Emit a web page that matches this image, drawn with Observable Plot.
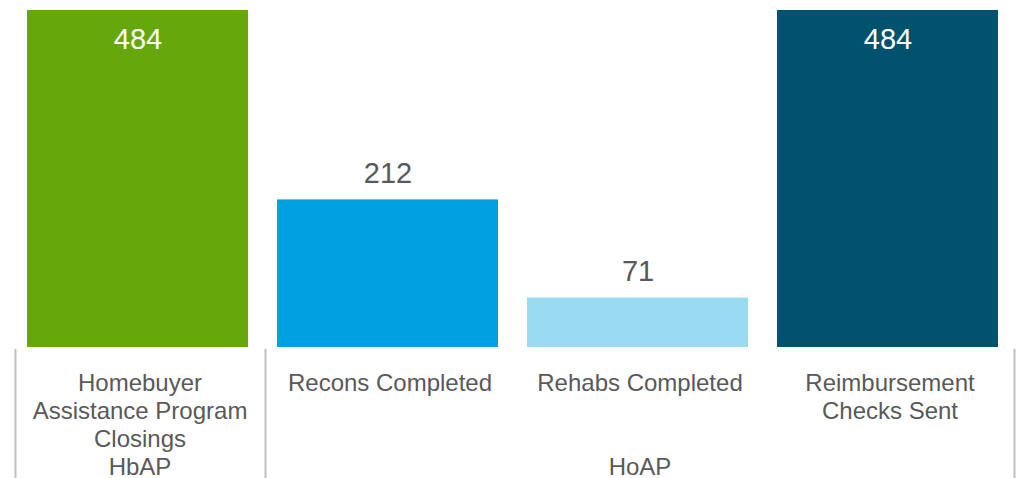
<!DOCTYPE html>
<html>
<head>
<meta charset="utf-8">
<script src="https://cdn.jsdelivr.net/npm/d3@7"></script>
<script src="https://cdn.jsdelivr.net/npm/@observablehq/plot@0.6"></script>
<style>
  html, body { margin: 0; padding: 0; background: #fff; }
</style>
</head>
<body>
<div id="chart"></div>
<script>
const categories = [
  "Homebuyer\nAssistance Program\nClosings",
  "Recons Completed",
  "Rehabs Completed",
  "Reimbursement\nChecks Sent"
];
const values = [484, 212, 71, 484];
const colors = ["#66a70b", "#00a1e0", "#9adbf2", "#00526f"];
const groupNames = ["HbAP", "HoAP"];
const groupCenters = [categories[0], categories[2]];
const insideLabel = [true, false, false, true];

const data = categories.map((c, i) => ({cat: c, value: values[i], color: colors[i], inside: insideLabel[i]}));
const groups = groupNames.map((g, i) => ({name: g, cat: groupCenters[i]}));

const textColor = "#595959";
const font = "'Liberation Sans', Arial, Helvetica, sans-serif";

const chart = Plot.plot({
  width: 1019,
  height: 478,
  marginTop: 10,
  marginBottom: 0,
  marginLeft: 0,
  marginRight: 0,
  style: {fontFamily: font, background: "#fff"},
  x: {domain: categories, range: [12.5, 1012.5], paddingInner: 0.116, paddingOuter: 0.058, axis: null},
  y: {domain: [0, 484], range: [347, 10], axis: null},
  color: {type: "identity"},
  marks: [
    Plot.barY(data, {x: "cat", y: "value", fill: "color"}),
    Plot.text(data.filter(d => d.inside), {x: "cat", y: "value", text: d => String(d.value), fill: "#ffffff", fontSize: 29, lineAnchor: "bottom", dy: 38}),
    Plot.text(data.filter(d => !d.inside), {x: "cat", y: "value", text: d => String(d.value), fill: textColor, fontSize: 29, lineAnchor: "bottom", dy: -17}),
    Plot.text(data, {x: "cat", y: 0, text: "cat", fill: textColor, fontSize: 24, lineHeight: 28 / 24, lineAnchor: "top", dy: 24, dx: 2}),
    Plot.text(groups, {x: "cat", y: 0, text: "name", fill: textColor, fontSize: 24, lineAnchor: "bottom", dy: 127, dx: 2}),
    Plot.ruleX([categories[0], categories[1]], {x: d => d, stroke: "#bfbfbf", strokeWidth: 2, dx: -122.5, insetTop: 339}),
    Plot.ruleX([categories[3]], {x: d => d, stroke: "#bfbfbf", strokeWidth: 2, dx: 126.5, insetTop: 339})
  ]
});
document.getElementById("chart").appendChild(chart);
</script>
</body>
</html>
